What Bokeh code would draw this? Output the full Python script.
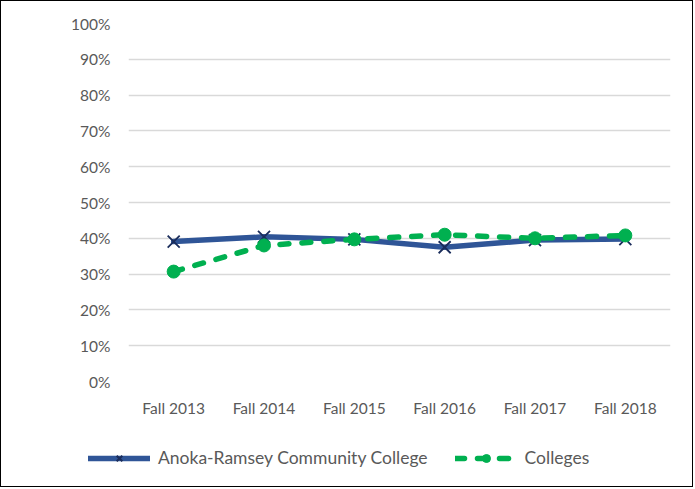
from bokeh.plotting import figure
from bokeh.layouts import column
from bokeh.models import Legend, LegendItem, Range1d, NumeralTickFormatter, FixedTicker
from bokeh.embed import file_html
from bokeh.resources import INLINE

categories = ["Fall 2013", "Fall 2014", "Fall 2015", "Fall 2016", "Fall 2017", "Fall 2018"]
anoka = [0.391, 0.404, 0.397, 0.375, 0.395, 0.398]
colleges = [0.307, 0.380, 0.397, 0.410, 0.400, 0.408]
y_ticks = [0, 0.1, 0.2, 0.3, 0.4, 0.5, 0.6, 0.7, 0.8, 0.9, 1.0]
series_names = ["Anoka-Ramsey Community College", "Colleges"]

FONT = "Lato"
GREY = "#595959"
BLUE = "#2F5597"
NAVY = "#1A2C5B"
GREEN = "#00B050"

W = 691
p = figure(x_range=categories, y_range=Range1d(0, 1.0), width=W, height=425,
           output_backend="svg", toolbar_location=None,
           min_border_left=127, min_border_right=22, min_border_top=22, min_border_bottom=45)
p.frame_align = False
p.outline_line_color = None
p.xgrid.grid_line_color = None
p.ygrid.grid_line_color = "#D9D9D9"
p.ygrid.grid_line_width = 1.5
p.yaxis.ticker = FixedTicker(ticks=y_ticks)
p.yaxis.formatter = NumeralTickFormatter(format="0%")
for ax in (p.xaxis, p.yaxis):
    ax.axis_line_color = None
    ax.major_tick_line_color = None
    ax.minor_tick_line_color = None
    ax.major_tick_out = 0
    ax.major_tick_in = 0
    ax.major_label_text_font = FONT
    ax.major_label_text_font_size = "15.5px"
    ax.major_label_text_color = GREY
p.yaxis.major_label_standoff = 18
p.xaxis.major_label_standoff = 17

p.line(categories, anoka, line_color=BLUE, line_width=5.5, line_cap="round")
p.scatter(categories, anoka, marker="x", size=17, line_color=NAVY, line_width=1.8)
p.line(categories, colleges, line_color=GREEN, line_width=5.5, line_dash="9 13", line_cap="round")
p.scatter(categories, colleges, marker="circle", size=13, fill_color=GREEN, line_color=GREEN)

# legend strip (sample glyphs sit outside the visible range)
q = figure(width=W, height=60, x_range=Range1d(0, 1), y_range=Range1d(0, 1),
           output_backend="svg", toolbar_location=None,
           x_axis_type=None, y_axis_type=None, min_border=0)
q.frame_align = False
q.outline_line_color = None
q.grid.visible = False
off = [-5]
ql1 = q.line(x=off, y=off, line_color=BLUE, line_width=5.5, line_cap="round")
qs1 = q.scatter(x=off, y=off, marker="x", size=16, line_color=NAVY, line_width=2)
ql2 = q.line(x=off, y=off, line_color=GREEN, line_width=5.5, line_dash="9 13", line_cap="round")
qs2 = q.scatter(x=off, y=off, marker="circle", size=13, fill_color=GREEN, line_color=GREEN)
legend = Legend(items=[LegendItem(label=series_names[0], renderers=[ql1, qs1]),
                       LegendItem(label=series_names[1], renderers=[ql2, qs2])],
                orientation="horizontal", location=(87, 18),
                label_text_font=FONT, label_text_font_size="17.5px", label_text_color=GREY,
                glyph_width=62, label_standoff=8, spacing=27, border_line_color=None,
                background_fill_alpha=0, margin=0, padding=4)
q.add_layout(legend, "center")

layout = column(p, q, spacing=0)
layout.styles = {"border": "1px solid black"}

open("out.html", "w").write(file_html(layout, INLINE))
